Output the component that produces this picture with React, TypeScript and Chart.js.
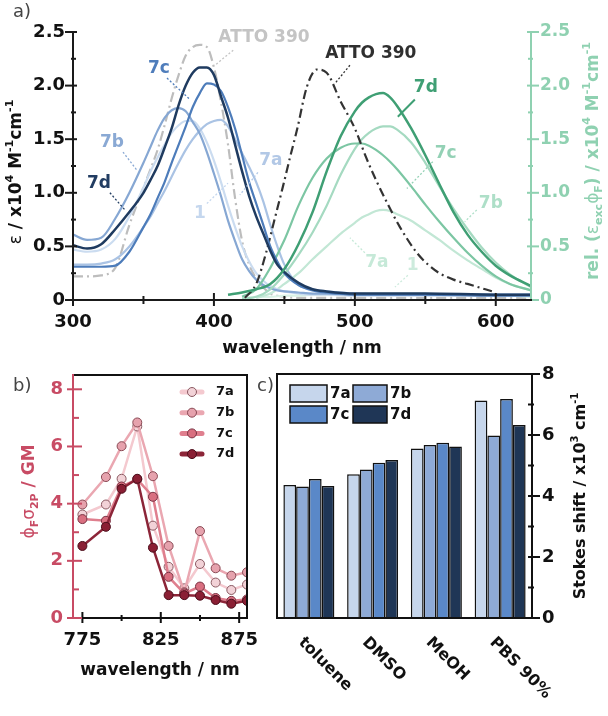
import React, { useEffect, useRef } from 'react';
import { Chart, registerables } from 'chart.js';

Chart.register(...registerables);

const FONT = '"DejaVu Sans", "Liberation Sans", sans-serif';

// ================= Panel a =================
const absWl = [300, 310, 320, 330, 340, 350, 355, 360, 365, 370, 375, 380, 385, 390, 395, 400, 405, 410, 415, 420, 425, 430, 435, 440, 445, 450, 460, 470, 480, 500, 550, 600, 625];
const abs7d = [0.51, 0.48, 0.52, 0.66, 0.82, 1.0, 1.12, 1.25, 1.42, 1.6, 1.82, 2.0, 2.12, 2.17, 2.17, 2.1, 1.9, 1.7, 1.45, 1.2, 0.97, 0.78, 0.62, 0.46, 0.33, 0.26, 0.16, 0.1, 0.08, 0.06, 0.06, 0.05, 0.05];
const abs7c = [0.31, 0.31, 0.31, 0.32, 0.45, 0.68, 0.8, 0.95, 1.1, 1.28, 1.45, 1.62, 1.8, 1.93, 2.02, 2.01, 1.95, 1.8, 1.6, 1.35, 1.1, 0.9, 0.7, 0.5, 0.36, 0.25, 0.14, 0.09, 0.07, 0.05, 0.05, 0.04, 0.04];
const abs7b = [0.61, 0.56, 0.58, 0.76, 1.0, 1.28, 1.43, 1.58, 1.7, 1.77, 1.79, 1.76, 1.66, 1.55, 1.38, 1.18, 0.97, 0.74, 0.55, 0.38, 0.27, 0.19, 0.14, 0.11, 0.09, 0.08, 0.07, 0.06, 0.06, 0.05, 0.05, 0.05, 0.05];
const abs7a = [0.33, 0.33, 0.34, 0.38, 0.5, 0.68, 0.78, 0.9, 1.02, 1.15, 1.28, 1.4, 1.5, 1.58, 1.64, 1.67, 1.68, 1.62, 1.5, 1.37, 1.24, 1.1, 0.92, 0.7, 0.5, 0.33, 0.14, 0.1, 0.08, 0.06, 0.05, 0.05, 0.05];
const abs1 = [0.47, 0.45, 0.47, 0.57, 0.78, 1.05, 1.2, 1.33, 1.45, 1.56, 1.63, 1.67, 1.67, 1.6, 1.47, 1.3, 1.1, 0.88, 0.68, 0.5, 0.36, 0.25, 0.18, 0.13, 0.1, 0.08, 0.06, 0.05, 0.05, 0.04, 0.04, 0.04, 0.04];
const absAtto = [0.22, 0.22, 0.23, 0.3, 0.7, 1.05, 1.22, 1.4, 1.63, 1.88, 2.1, 2.28, 2.36, 2.38, 2.36, 2.17, 1.85, 1.45, 0.95, 0.55, 0.33, 0.2, 0.12, 0.06, 0.04, 0.03, 0.02, 0.02, 0.02, 0.02, 0.02, 0.02, 0.02];

const emWl = [410, 420, 430, 440, 450, 460, 470, 480, 490, 500, 505, 510, 515, 520, 525, 530, 540, 550, 560, 570, 580, 590, 600, 610, 625];
const em7d = [0.05, 0.07, 0.1, 0.15, 0.29, 0.52, 0.82, 1.2, 1.53, 1.76, 1.84, 1.89, 1.92, 1.93, 1.89, 1.81, 1.6, 1.35, 1.08, 0.82, 0.61, 0.45, 0.32, 0.23, 0.13];
const em7c = [null, 0.03, 0.1, 0.3, 0.56, 0.88, 1.14, 1.32, 1.42, 1.46, 1.46, 1.44, 1.4, 1.35, 1.29, 1.22, 1.06, 0.89, 0.73, 0.58, 0.44, 0.32, 0.22, 0.15, 0.09];
const em7b = [null, 0.01, 0.03, 0.1, 0.24, 0.42, 0.63, 0.88, 1.17, 1.41, 1.5, 1.56, 1.6, 1.62, 1.62, 1.59, 1.47, 1.28, 1.06, 0.85, 0.66, 0.49, 0.35, 0.24, 0.12];
const em7a = [null, null, 0.02, 0.06, 0.15, 0.25, 0.38, 0.5, 0.62, 0.72, 0.77, 0.8, 0.83, 0.84, 0.83, 0.8, 0.74, 0.65, 0.56, 0.46, 0.37, 0.29, 0.21, 0.15, 0.09];
const em1 = [null, 0.02, 0.03, 0.03, 0.04, 0.04, 0.05, 0.05, 0.05, 0.06, 0.06, 0.06, 0.06, 0.06, 0.06, 0.06, 0.06, 0.06, 0.05, 0.05, 0.05, 0.05, 0.04, 0.04, 0.03];
const attoEmWl = [422, 430, 437, 443, 449, 454, 459, 466, 473, 480, 490, 500, 508, 515, 522, 532, 544, 552, 560, 570, 580, 590, 600];
const attoEm = [0.02, 0.15, 0.44, 0.75, 1.06, 1.33, 1.59, 1.99, 2.15, 2.12, 1.85, 1.6, 1.33, 1.12, 0.93, 0.68, 0.44, 0.33, 0.25, 0.19, 0.15, 0.11, 0.07];

const aXTicks = [300, 400, 500, 600];
const aXMinor = [350, 450, 550];
const aYTicks = [0, 0.5, 1, 1.5, 2, 2.5];
const aYMinor = [0.25, 0.75, 1.25, 1.75, 2.25];

// curve labels (text, colour, label position, leader start, leader end) in data units
const annA = [
  { t: 'ATTO 390', c: '#c4c4c4', x: 435.5, y: 2.45, l: [413.7, 2.33, 400.7, 2.19], solid: false },
  { t: 'ATTO 390', c: '#2f2f2f', x: 511.3, y: 2.3, l: [496.5, 2.19, 486.5, 2.03], solid: false },
  { t: '7c', c: '#4f7dbb', x: 361, y: 2.16, l: [366.7, 2.07, 383, 1.87], solid: false },
  { t: '7b', c: '#8aa9d4', x: 327.7, y: 1.47, l: [335.5, 1.38, 345.4, 1.21], solid: false },
  { t: '7d', c: '#223d62', x: 318.4, y: 1.09, l: [326.2, 1.0, 336.9, 0.84], solid: false },
  { t: '7a', c: '#b2c8e6', x: 440.4, y: 1.3, l: [431.2, 1.19, 418.4, 0.98], solid: false },
  { t: '1', c: '#c5d7ee', x: 390, y: 0.81, l: [395, 0.9, 410, 1.09], solid: false },
  { t: '7d', c: '#3f9f74', x: 550.4, y: 1.98, l: [542.6, 1.87, 530.5, 1.71], solid: true },
  { t: '7c', c: '#93d1b5', x: 564.5, y: 1.37, l: [555.3, 1.29, 536.9, 1.04], solid: false },
  { t: '7b', c: '#aedfc8', x: 596.5, y: 0.9, l: [586.5, 0.84, 578, 0.73], solid: false },
  { t: '7a', c: '#c6e9d8', x: 515.6, y: 0.35, l: [507.1, 0.44, 496.5, 0.58], solid: false },
  { t: '1', c: '#cdebdd', x: 541, y: 0.32, l: [537.6, 0.23, 528.4, 0.12], solid: false },
];

// ================= Panel b =================
const bWl = [775, 790, 800, 810, 820, 830, 840, 850, 860, 870, 880];
const b7a = [3.62, 3.97, 4.87, 6.7, 3.23, 1.79, 1.04, 1.89, 1.24, 0.98, 1.17];
const b7b = [3.97, 4.93, 6.01, 6.84, 4.96, 2.52, 0.9, 3.04, 1.74, 1.48, 1.6];
const b7c = [3.46, 3.4, 4.6, 4.85, 4.24, 1.44, 0.86, 1.1, 0.7, 0.6, 0.65];
const b7d = [2.52, 3.19, 4.52, 4.87, 2.46, 0.8, 0.8, 0.78, 0.63, 0.5, 0.6];
const bXTicks = [775, 825, 875];
const bXMinor = [800, 850];
const bYTicks = [0, 2, 4, 6, 8];
const bYMinor = [1, 3, 5, 7];

// ================= Panel c =================
const solvents = ['toluene', 'DMSO', 'MeOH', 'PBS 90%'];
const c7a = [4.36, 4.71, 5.56, 7.13];
const c7b = [4.31, 4.87, 5.67, 5.98];
const c7c = [4.56, 5.09, 5.75, 7.18];
const c7d = [4.33, 5.18, 5.62, 6.33];
const cYTicks = [0, 2, 4, 6, 8];
const cYMinor = [1, 3, 5, 7];

// colours
const B = { d: '#1f3b60', c: '#4d7cba', b: '#86a7d3', a: '#aac3e4', one: '#cbdcf0' };
const G = { d: '#3f9f74', c: '#7cc6a3', b: '#a5dac1', a: '#c2e7d5', one: '#d9f1e5' };
const AXIS_G = '#8fd1b1';
const ROSE = '#c84b64';
const PINK = {
  a: { line: '#f4c9cf', pt: '#f2d2d7' },
  b: { line: '#eaa7b1', pt: '#e6a2ad' },
  c: { line: '#df7f8e', pt: '#d96f80' },
  d: { line: '#8c2538', pt: '#8a1f34' },
};
const BAR = { a: '#c6d6ec', b: '#8eaad6', c: '#5a88c8', d: '#1f3656' };

// ---------------- helpers ----------------
const pts = (xs: number[], ys: (number | null)[]) => xs.map((x, i) => ({ x, y: ys[i] }));

function seg(ctx: any, x1: number, y1: number, x2: number, y2: number) {
  ctx.beginPath();
  ctx.moveTo(x1, y1);
  ctx.lineTo(x2, y2);
  ctx.stroke();
}

function vAxis(ctx: any, scale: any, x: number, top: number, bottom: number, side: number, color: string, majors: number[], minors: number[], t: number[]) {
  ctx.save();
  ctx.strokeStyle = color;
  ctx.lineWidth = 2;
  seg(ctx, x, top - 1, x, bottom + 1);
  for (const v of majors) {
    const y = scale.getPixelForValue(v);
    seg(ctx, x + side * t[0], y, x - side * t[1], y);
  }
  for (const v of minors) {
    const y = scale.getPixelForValue(v);
    seg(ctx, x + side * t[2], y, x - side * t[3], y);
  }
  ctx.restore();
}

function hAxis(ctx: any, scale: any, y: number, left: number, right: number, color: string, majors: number[], minors: number[], t: number[]) {
  ctx.save();
  ctx.strokeStyle = color;
  ctx.lineWidth = 2;
  seg(ctx, left - 1, y, right + 1, y);
  for (const v of majors) {
    const x = scale.getPixelForValue(v);
    seg(ctx, x, y + t[0], x, y - t[1]);
  }
  for (const v of minors) {
    const x = scale.getPixelForValue(v);
    seg(ctx, x, y + t[2], x, y - t[3]);
  }
  ctx.restore();
}

type Seg = { t: string; s?: 'sup' | 'sub'; w?: string };
function drawRich(ctx: any, segs: Seg[], x: number, y: number, size: number, color: string, rot: number, align = 'center', weight = 'bold') {
  ctx.save();
  ctx.translate(x, y);
  ctx.rotate(rot);
  const fontFor = (s: Seg) => `${s.w || weight} ${s.s ? Math.round(size * 0.65) : size}px ${FONT}`;
  let total = 0;
  for (const s of segs) {
    ctx.font = fontFor(s);
    total += ctx.measureText(s.t).width;
  }
  let cx = align === 'center' ? -total / 2 : align === 'right' ? -total : 0;
  ctx.fillStyle = color;
  ctx.textBaseline = 'middle';
  ctx.textAlign = 'left';
  for (const s of segs) {
    ctx.font = fontFor(s);
    const dy = s.s === 'sup' ? -size * 0.38 : s.s === 'sub' ? size * 0.3 : 0;
    ctx.fillText(s.t, cx, dy);
    cx += ctx.measureText(s.t).width;
  }
  ctx.restore();
}

function panelLetter(ctx: any, t: string, x: number, y: number) {
  ctx.save();
  ctx.font = `18px ${FONT}`;
  ctx.fillStyle = '#444';
  ctx.textBaseline = 'middle';
  ctx.textAlign = 'left';
  ctx.fillText(t, x, y);
  ctx.restore();
}

const tickFont = (size: number) => ({ family: FONT, size, weight: 'bold' as const });
const fitX = (h: number) => (s: any) => { s.height = h; s.paddingLeft = 0; s.paddingRight = 0; };
const fitY = (w: number) => (s: any) => { s.width = w; s.paddingTop = 0; s.paddingBottom = 0; };

// ---------------- configs ----------------
function configA(): any {
  const lineDs = (label: string, xs: number[], ys: (number | null)[], color: string, width: number, axis: string, dash: number[] = []) => ({
    label,
    data: pts(xs, ys),
    borderColor: color,
    backgroundColor: color,
    borderWidth: width,
    borderDash: dash,
    yAxisID: axis,
    pointRadius: 0,
    cubicInterpolationMode: 'monotone',
    fill: false,
  });
  const decorA = {
    id: 'decorA',
    afterDraw(chart: any) {
      const { ctx, chartArea: ca } = chart;
      const sx = chart.scales.x;
      const sy = chart.scales.y;
      const sy2 = chart.scales.y2;
      vAxis(ctx, sy, ca.left, ca.top, ca.bottom, -1, '#1a1a1a', aYTicks, aYMinor, [8, 4, 2, 3]);
      vAxis(ctx, sy2, ca.right, ca.top, ca.bottom, 1, AXIS_G, aYTicks, aYMinor, [8, 4, 2, 3]);
      hAxis(ctx, sx, ca.bottom, ca.left, ca.right, '#1a1a1a', aXTicks, aXMinor, [6, 7, 4, 4]);
      for (const a of annA) {
        ctx.save();
        ctx.strokeStyle = a.c;
        ctx.lineWidth = a.solid ? 2 : 1.3;
        ctx.setLineDash(a.solid ? [] : [2, 2]);
        seg(ctx, sx.getPixelForValue(a.l[0]), sy.getPixelForValue(a.l[1]), sx.getPixelForValue(a.l[2]), sy.getPixelForValue(a.l[3]));
        ctx.restore();
        drawRich(ctx, [{ t: a.t }], sx.getPixelForValue(a.x), sy.getPixelForValue(a.y), 17, a.c, 0);
      }
      panelLetter(ctx, 'a)', 13, 12);
      drawRich(ctx, [{ t: 'wavelength / nm' }], (ca.left + ca.right) / 2, ca.bottom + 49, 17, '#111', 0);
      drawRich(ctx, [{ t: 'ε', w: 'normal' }, { t: ' / x10' }, { t: '4', s: 'sup' }, { t: ' M' }, { t: '-1', s: 'sup' }, { t: 'cm' }, { t: '-1', s: 'sup' }], ca.left - 56, 172, 17, '#111', -Math.PI / 2);
      drawRich(ctx, [{ t: 'rel. (' }, { t: 'ε', w: 'normal' }, { t: 'exc', s: 'sub' }, { t: 'ϕ', w: 'normal' }, { t: 'F', s: 'sub' }, { t: ') / x10' }, { t: '4', s: 'sup' }, { t: ' M' }, { t: '-1', s: 'sup' }, { t: 'cm' }, { t: '-1', s: 'sup' }], ca.right + 63, 161, 17, AXIS_G, -Math.PI / 2);
    },
  };
  return {
    type: 'line',
    data: {
      datasets: [
        lineDs('7d em', emWl, em7d, G.d, 2.5, 'y2'),
        lineDs('7d abs', absWl, abs7d, B.d, 2.5, 'y'),
        lineDs('7c abs', absWl, abs7c, B.c, 2.2, 'y'),
        lineDs('ATTO 390 em', attoEmWl, attoEm, '#333333', 2.2, 'y', [9, 4, 2, 4]),
        lineDs('7c em', emWl, em7c, G.c, 2.2, 'y2'),
        lineDs('7b em', emWl, em7b, G.b, 2.2, 'y2'),
        lineDs('7b abs', absWl, abs7b, B.b, 2.2, 'y'),
        lineDs('7a abs', absWl, abs7a, B.a, 2.2, 'y'),
        lineDs('1 abs', absWl, abs1, B.one, 2.2, 'y'),
        lineDs('7a em', emWl, em7a, G.a, 2.2, 'y2'),
        lineDs('1 em', emWl, em1, G.one, 2.2, 'y2'),
        lineDs('ATTO 390 abs', absWl, absAtto, '#bdbdbd', 2.2, 'y', [10, 4, 2, 4]),
      ],
    },
    options: {
      responsive: false,
      animation: false,
      layout: { padding: { top: 32, left: 0, right: 0, bottom: 0 } },
      plugins: { legend: { display: false }, tooltip: { enabled: false } },
      scales: {
        x: {
          type: 'linear', min: 300, max: 625, position: 'bottom',
          afterBuildTicks: (s: any) => { s.ticks = aXTicks.map((v) => ({ value: v })); },
          afterFit: fitX(62),
          grid: { display: false, drawTicks: false }, border: { display: false },
          ticks: { padding: 12, color: '#111', font: tickFont(18), autoSkip: false, maxRotation: 0 },
        },
        y: {
          type: 'linear', min: 0, max: 2.5, position: 'left',
          afterBuildTicks: (s: any) => { s.ticks = aYTicks.map((v) => ({ value: v })); },
          afterFit: fitY(73),
          grid: { display: false, drawTicks: false }, border: { display: false },
          ticks: { padding: 8, color: '#111', font: tickFont(18), callback: (v: any) => (v === 0 ? '0' : Number(v).toFixed(1)) },
        },
        y2: {
          type: 'linear', min: 0, max: 2.5, position: 'right',
          afterBuildTicks: (s: any) => { s.ticks = aYTicks.map((v) => ({ value: v })); },
          afterFit: fitY(77),
          grid: { display: false, drawTicks: false }, border: { display: false },
          ticks: { padding: 9, color: AXIS_G, font: tickFont(17), callback: (v: any) => (v === 0 ? '0' : Number(v).toFixed(1)) },
        },
      },
    },
    plugins: [decorA],
  };
}

function configB(): any {
  const ds = (label: string, ys: number[], col: any, border: string) => ({
    label,
    data: pts(bWl, ys),
    borderColor: col.line,
    backgroundColor: col.pt,
    borderWidth: 2.5,
    pointRadius: 4.5,
    pointBorderWidth: 1,
    pointBackgroundColor: col.pt,
    pointBorderColor: border,
    tension: 0,
    fill: false,
  });
  const legendItems = [
    { t: '7a', col: PINK.a, border: '#8a5a62' },
    { t: '7b', col: PINK.b, border: '#8a4a55' },
    { t: '7c', col: PINK.c, border: '#7a3343' },
    { t: '7d', col: PINK.d, border: '#4a0d1a' },
  ];
  const decorB = {
    id: 'decorB',
    afterDraw(chart: any) {
      const { ctx, chartArea: ca } = chart;
      const sx = chart.scales.x;
      const sy = chart.scales.y;
      ctx.save();
      ctx.strokeStyle = '#111';
      ctx.lineWidth = 2;
      seg(ctx, ca.left, ca.top, ca.right + 1, ca.top);
      seg(ctx, ca.right, ca.top, ca.right, ca.bottom);
      ctx.restore();
      hAxis(ctx, sx, ca.bottom, ca.left, ca.right, '#111', bXTicks, bXMinor, [5, 6, 3, 3]);
      vAxis(ctx, sy, ca.left, ca.top, ca.bottom, -1, ROSE, bYTicks, bYMinor, [6, 9, 0, 6]);
      legendItems.forEach((it, i) => {
        const cy = ca.top + 17 + i * 20.7;
        const cx = ca.right - 55;
        ctx.save();
        ctx.strokeStyle = it.col.line;
        ctx.lineWidth = 5;
        ctx.lineCap = 'round';
        seg(ctx, cx - 10, cy, cx + 10, cy);
        ctx.beginPath();
        ctx.arc(cx, cy, 4.5, 0, Math.PI * 2);
        ctx.fillStyle = it.col.pt;
        ctx.fill();
        ctx.lineWidth = 1;
        ctx.strokeStyle = it.border;
        ctx.stroke();
        ctx.restore();
        drawRich(ctx, [{ t: it.t }], ca.right - 31, cy, 13, '#111', 0, 'left');
      });
      panelLetter(ctx, 'b)', 13, 24);
      drawRich(ctx, [{ t: 'wavelength / nm' }], (ca.left + ca.right) / 2, ca.bottom + 53, 17, '#111', 0);
      drawRich(ctx, [{ t: 'ϕ', w: 'normal' }, { t: 'F', s: 'sub' }, { t: 'σ', w: 'normal' }, { t: '2P', s: 'sub' }, { t: ' / GM' }], ca.left - 43, (ca.top + ca.bottom) / 2 - 5, 17, ROSE, -Math.PI / 2);
    },
  };
  return {
    type: 'line',
    data: {
      datasets: [
        ds('7d', b7d, PINK.d, '#4a0d1a'),
        ds('7c', b7c, PINK.c, '#7a3343'),
        ds('7b', b7b, PINK.b, '#8a4a55'),
        ds('7a', b7a, PINK.a, '#8a5a62'),
      ],
    },
    options: {
      responsive: false,
      animation: false,
      layout: { padding: { top: 13, left: 0, right: 15, bottom: 0 } },
      plugins: { legend: { display: false }, tooltip: { enabled: false } },
      scales: {
        x: {
          type: 'linear', min: 769, max: 880, position: 'bottom',
          afterBuildTicks: (s: any) => { s.ticks = bXTicks.map((v) => ({ value: v })); },
          afterFit: fitX(98),
          grid: { display: false, drawTicks: false }, border: { display: false },
          ticks: { padding: 12, color: '#111', font: tickFont(18), autoSkip: false, maxRotation: 0 },
        },
        y: {
          type: 'linear', min: 0, max: 8.5, position: 'left',
          afterBuildTicks: (s: any) => { s.ticks = bYTicks.map((v) => ({ value: v })); },
          afterFit: fitY(73),
          grid: { display: false, drawTicks: false }, border: { display: false },
          ticks: { padding: 10, color: ROSE, font: tickFont(18) },
        },
      },
    },
    plugins: [decorB],
  };
}

function configC(): any {
  const ds = (label: string, ys: number[], color: string) => ({
    label,
    data: ys,
    backgroundColor: color,
    borderColor: '#111',
    borderWidth: 1.5,
    categoryPercentage: 0.8,
    barPercentage: 1.0,
  });
  const legendItems = [
    { t: '7a', c: BAR.a, col: 0, row: 0 },
    { t: '7b', c: BAR.b, col: 1, row: 0 },
    { t: '7c', c: BAR.c, col: 0, row: 1 },
    { t: '7d', c: BAR.d, col: 1, row: 1 },
  ];
  const decorC = {
    id: 'decorC',
    afterDraw(chart: any) {
      const { ctx, chartArea: ca } = chart;
      const sx = chart.scales.x;
      const sy = chart.scales.y;
      ctx.save();
      ctx.strokeStyle = '#111';
      ctx.lineWidth = 2;
      seg(ctx, ca.left - 1, ca.top, ca.right, ca.top);
      seg(ctx, ca.left, ca.top, ca.left, ca.bottom);
      ctx.restore();
      hAxis(ctx, sx, ca.bottom, ca.left, ca.right, '#111', [], [], [0, 0, 0, 0]);
      vAxis(ctx, sy, ca.right, ca.top, ca.bottom, 1, '#111', cYTicks, cYMinor, [8, 4, 2, 4]);
      solvents.forEach((s, i) => {
        const xc = sx.getPixelForValue(i);
        drawRich(ctx, [{ t: s }], xc - 8, ca.bottom + 22, 16, '#111', Math.PI / 4, 'left');
      });
      legendItems.forEach((it) => {
        const bx = ca.left + (it.col === 0 ? 13 : 76);
        const bw = it.col === 0 ? 37 : 34;
        const by = ca.top + 11 + it.row * 21;
        ctx.save();
        ctx.fillStyle = it.c;
        ctx.fillRect(bx, by, bw, 17);
        ctx.strokeStyle = '#111';
        ctx.lineWidth = 1.5;
        ctx.strokeRect(bx, by, bw, 17);
        ctx.restore();
        drawRich(ctx, [{ t: it.t }], bx + bw + 3, by + 9, 15, '#111', 0, 'left');
      });
      panelLetter(ctx, 'c)', 7, 24);
      drawRich(ctx, [{ t: 'Stokes shift / x10' }, { t: '3', s: 'sup' }, { t: ' cm' }, { t: '-1', s: 'sup' }], ca.right + 49, (ca.top + ca.bottom) / 2, 16, '#111', -Math.PI / 2);
    },
  };
  return {
    type: 'bar',
    data: {
      labels: solvents,
      datasets: [ds('7a', c7a, BAR.a), ds('7b', c7b, BAR.b), ds('7c', c7c, BAR.c), ds('7d', c7d, BAR.d)],
    },
    options: {
      responsive: false,
      animation: false,
      layout: { padding: { top: 12, left: 27, right: 0, bottom: 0 } },
      plugins: { legend: { display: false }, tooltip: { enabled: false } },
      scales: {
        x: {
          type: 'category', position: 'bottom',
          afterFit: fitX(98),
          grid: { display: false, drawTicks: false }, border: { display: false },
          ticks: { display: false },
        },
        y: {
          type: 'linear', min: 0, max: 8, position: 'right',
          afterBuildTicks: (s: any) => { s.ticks = cYTicks.map((v) => ({ value: v })); },
          afterFit: fitY(76),
          grid: { display: false, drawTicks: false }, border: { display: false },
          ticks: { padding: 10, color: '#111', font: tickFont(18) },
        },
      },
    },
    plugins: [decorC],
  };
}

export default function App() {
  const refA = useRef<HTMLCanvasElement>(null);
  const refB = useRef<HTMLCanvasElement>(null);
  const refC = useRef<HTMLCanvasElement>(null);

  useEffect(() => {
    const a = new Chart(refA.current as HTMLCanvasElement, configA());
    const b = new Chart(refB.current as HTMLCanvasElement, configB());
    const c = new Chart(refC.current as HTMLCanvasElement, configC());
    return () => {
      a.destroy();
      b.destroy();
      c.destroy();
    };
  }, []);

  return (
    <div style={{ position: 'absolute', left: 0, top: 0, width: 608, height: 716, background: '#ffffff' }}>
      <canvas ref={refA} width={608} height={362} style={{ position: 'absolute', left: 0, top: 0, width: 608, height: 362 }} />
      <canvas ref={refB} width={262} height={354} style={{ position: 'absolute', left: 0, top: 362, width: 262, height: 354 }} />
      <canvas ref={refC} width={358} height={354} style={{ position: 'absolute', left: 250, top: 362, width: 358, height: 354 }} />
    </div>
  );
}
